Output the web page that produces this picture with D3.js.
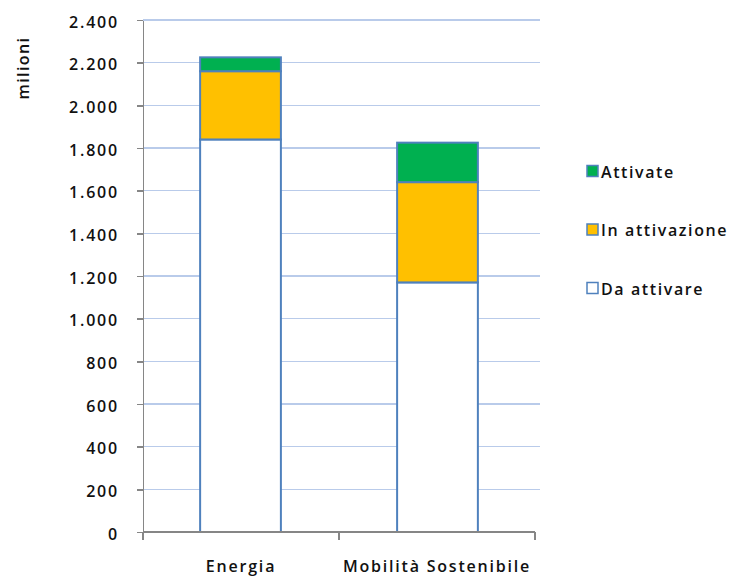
<!DOCTYPE html>
<meta charset="utf-8">
<script src="https://d3js.org/d3.v7.min.js"></script>
<style>
body { margin: 0; background: #fff; }
text { font-family: "Open Sans", "Liberation Sans", sans-serif; font-weight: 600; fill: #111; font-size: 16px; letter-spacing: 1.8px; }
.axis path, .axis line { stroke: #868686; stroke-width: 1.5px; shape-rendering: crispEdges; }
.grid line { stroke: #b9cbea; stroke-width: 1.5px; shape-rendering: crispEdges; }
</style>
<div id="plot"></div>
<script>
// data (milioni)
var categories = ["Energia", "Mobilità Sostenibile"];
var daAttivare = [1840, 1170];
var inAttivazione = [320, 470];
var attivate = [65, 185];
var seriesNames = ["Da attivare", "In attivazione", "Attivate"];
var seriesColors = ["#ffffff", "#ffc000", "#00b050"];
var yTicks = [0, 200, 400, 600, 800, 1000, 1200, 1400, 1600, 1800, 2000, 2200, 2400];

// plot area (note: "top" is reserved on window, so use other names)
var plotLeft = 143, plotTop = 20, plotW = 392, plotH = 512;

var svg = d3.select("#plot").append("svg")
    .attr("width", 733).attr("height", 576);

var x = d3.scaleBand().domain(categories).range([plotLeft, plotLeft + plotW]).paddingInner(0.59).paddingOuter(0.29);
var xb = d3.scaleBand().domain(categories).range([plotLeft, plotLeft + plotW]);
var y = d3.scaleLinear().domain([0, 2400]).range([plotTop + plotH, plotTop]);

var it = d3.formatLocale({decimal: ",", thousands: ".", grouping: [3], currency: ["€", ""]});
var fmt = it.format(",d");

// gridlines
svg.append("g").attr("class", "grid")
  .selectAll("line").data(yTicks.slice(1)).enter().append("line")
    .attr("x1", plotLeft).attr("x2", plotLeft + plotW + 5)
    .attr("y1", function(d) { return y(d); }).attr("y2", function(d) { return y(d); });

// stacked bars
var rows = categories.map(function(c, i) {
  return {cat: c, "Da attivare": daAttivare[i], "In attivazione": inAttivazione[i], "Attivate": attivate[i]};
});
var stack = d3.stack().keys(seriesNames)(rows);

var layers = svg.selectAll(".layer").data(stack).enter().append("g")
    .attr("fill", function(d, i) { return seriesColors[i]; });
layers.selectAll("rect").data(function(d) { return d; }).enter().append("rect")
    .attr("x", function(d) { return x(d.data.cat); })
    .attr("width", x.bandwidth())
    .attr("y", function(d) { return y(d[1]); })
    .attr("height", function(d) { return y(d[0]) - y(d[1]); })
    .attr("stroke", "#4f81bd").attr("stroke-width", 2);

// y axis
var yAxis = svg.append("g").attr("class", "axis")
    .attr("transform", "translate(" + plotLeft + ",0)")
    .call(d3.axisLeft(y).tickValues(yTicks).tickFormat(fmt).tickSize(6).tickSizeOuter(0).tickPadding(18));
yAxis.selectAll("text").attr("dy", "0.45em").style("font-size", "16px").attr("font-family", null);

// x axis with ticks between categories
var xAxis = svg.append("g").attr("class", "axis")
    .attr("transform", "translate(0," + (plotTop + plotH) + ")");
xAxis.append("line").attr("x1", plotLeft).attr("x2", plotLeft + plotW);
xAxis.selectAll(".tk").data([plotLeft, plotLeft + xb.bandwidth(), plotLeft + plotW]).enter().append("line")
    .attr("x1", function(d) { return d; }).attr("x2", function(d) { return d; })
    .attr("y1", 0).attr("y2", 8);
xAxis.selectAll(".lbl").data(categories).enter().append("text")
    .attr("x", function(d) { return xb(d) + xb.bandwidth() / 2; })
    .attr("y", 40)
    .attr("text-anchor", "middle")
    .text(function(d) { return d; });

// y label
svg.append("text")
    .attr("transform", "translate(29,68) rotate(-90)")
    .attr("text-anchor", "middle").style("font-size", "16px").style("letter-spacing", "1.4px")
    .text("milioni");

// legend
var legendOrder = [2, 1, 0];
var legend = svg.selectAll(".legend").data(legendOrder).enter().append("g")
    .attr("transform", function(d, i) { return "translate(587," + (165.5 + i * 58.5) + ")"; });
legend.append("rect")
    .attr("width", 11).attr("height", 11)
    .attr("fill", function(d) { return seriesColors[d]; })
    .attr("stroke", "#4f81bd").attr("stroke-width", 1.5);
legend.append("text")
    .attr("x", 14).attr("y", 6).attr("dy", "0.38em")
    .style("letter-spacing", "1.6px")
    .text(function(d) { return seriesNames[d]; });
</script>
